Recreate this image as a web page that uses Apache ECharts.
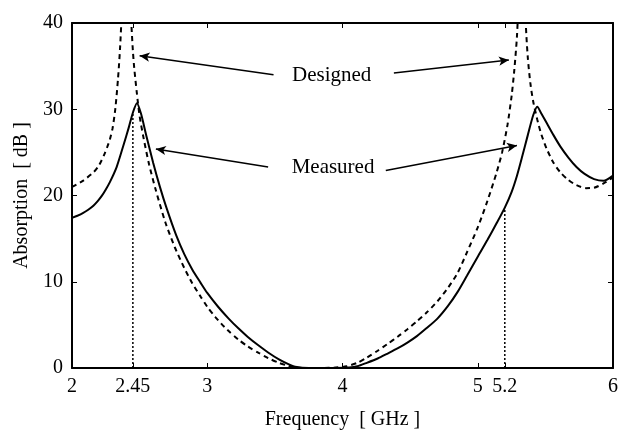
<!DOCTYPE html>
<html>
<head>
<meta charset="utf-8">
<script src="https://cdn.jsdelivr.net/npm/echarts@6/dist/echarts.min.js"></script>
<style>
html, body { margin: 0; padding: 0; background: #fff; }
#chart { width: 621px; height: 435px; }
</style>
</head>
<body>
<div id="chart"></div>
<script>
// frequency in GHz, absorption in dB
var measuredFreq = [2.00, 2.04, 2.08, 2.12, 2.16, 2.19, 2.22, 2.25, 2.28, 2.33, 2.38, 2.42, 2.45, 2.48, 2.51, 2.55, 2.60, 2.65, 2.70, 2.77,
	2.83, 2.89, 2.95, 3.00, 3.08, 3.16, 3.23, 3.30, 3.38, 3.45, 3.53, 3.60, 3.65, 3.75, 3.85, 3.95, 4.05, 4.11, 4.18, 4.26,
	4.33, 4.41, 4.48, 4.55, 4.62, 4.70, 4.78, 4.85, 4.92, 5.00, 5.07, 5.14, 5.20, 5.25, 5.29, 5.33, 5.37, 5.41, 5.44, 5.47,
	5.51, 5.56, 5.61, 5.67, 5.73, 5.79, 5.86, 5.93, 6.00];
var measuredAbs = [17.4, 17.65, 17.95, 18.35, 18.85, 19.35, 19.95, 20.7, 21.55, 23.3, 25.8, 27.9, 29.6, 30.7, 29.5, 26.9, 23.8, 21.0, 18.5, 15.4,
	13.2, 11.4, 9.9, 8.7, 7.1, 5.7, 4.6, 3.6, 2.6, 1.8, 1.0, 0.45, 0.15, 0.0, 0.0, 0.0, 0.05, 0.2, 0.6, 1.1,
	1.65, 2.3, 2.95, 3.7, 4.6, 5.7, 7.2, 8.8, 10.7, 12.9, 14.8, 16.8, 18.6, 20.4, 22.3, 24.6, 27.0, 29.3, 30.3, 29.5,
	28.4, 27.0, 25.7, 24.4, 23.3, 22.5, 21.9, 21.7, 22.3];

var designedFreq = [2.00, 2.08, 2.16, 2.20, 2.24, 2.26, 2.28, 2.30, 2.32, 2.34, 2.355, 2.37, 2.39, 2.40, 2.41, 2.425, 2.437, 2.45, 2.46, 2.48,
	2.50, 2.53, 2.57, 2.62, 2.69, 2.76, 2.83, 2.89, 2.95, 3.00, 3.06, 3.15, 3.23, 3.30, 3.38, 3.45, 3.53, 3.60, 3.65, 3.75,
	3.85, 3.95, 4.03, 4.11, 4.18, 4.26, 4.33, 4.41, 4.48, 4.55, 4.62, 4.70, 4.78, 4.85, 4.92, 5.00, 5.07, 5.14, 5.18, 5.22,
	5.25, 5.27, 5.29, 5.31, 5.325, 5.34, 5.355, 5.37, 5.39, 5.41, 5.44, 5.47, 5.51, 5.56, 5.61, 5.67, 5.73, 5.80, 5.86, 5.93,
	6.00];
var designedAbs = [21.0, 21.7, 22.7, 23.5, 24.8, 25.6, 26.5, 27.8, 30.0, 33.5, 37.0, 42.0, 52.0, 58.0, 52.0, 45.0, 40.5, 36.8, 34.8, 31.8,
	29.2, 26.6, 23.6, 20.6, 16.9, 14.0, 11.6, 9.8, 8.3, 7.1, 5.9, 4.4, 3.3, 2.5, 1.75, 1.15, 0.6, 0.25, 0.05, 0.0,
	0.0, 0.05, 0.2, 0.6, 1.2, 2.0, 2.75, 3.65, 4.5, 5.4, 6.4, 7.7, 9.3, 11.0, 13.4, 16.3, 19.3, 22.7, 25.0, 28.2,
	31.5, 34.5, 38.5, 46.0, 55.0, 48.0, 40.0, 36.0, 32.9, 30.9, 28.8, 27.1, 25.4, 23.8, 22.7, 21.8, 21.2, 20.85, 20.9, 21.4,
	22.1];

var xTicks = [2, 2.45, 3, 4, 5, 5.2, 6];

// vertical dotted markers at the design frequencies
var markerFreqs = [2.45, 5.2];
var markerTops = [29.6, 18.6];

// annotations
var noteNames = ['Designed', 'Measured'];
var notePos = [[3.92, 33.9], [3.93, 23.3]];
var arrowFrom = [[3.49, 34.0], [4.38, 34.2], [3.45, 23.3], [4.32, 22.9]];
var arrowTo = [[2.50, 36.2], [5.23, 35.7], [2.62, 25.4], [5.29, 25.8]];

var font = 'Liberation Serif';

function pairs(xs, ys) {
	var out = [];
	for (var i = 0; i < xs.length; i++) {
		out.push([xs[i], ys[i]]);
	}
	return out;
}

var chart = echarts.init(document.getElementById('chart'));

var tickStyle = { inside: true, length: 5, lineStyle: { color: '#000', width: 1 } };
var lineStyleAxis = { show: true, onZero: false, lineStyle: { color: '#000', width: 2 } };

var series = [{
	name: 'Measured',
	type: 'line',
	data: pairs(measuredFreq, measuredAbs),
	smooth: 0.25,
	showSymbol: false,
	clip: true,
	lineStyle: { color: '#000', width: 2 },
	z: 3
}, {
	name: 'Designed',
	type: 'line',
	data: pairs(designedFreq, designedAbs),
	smooth: 0.25,
	showSymbol: false,
	clip: true,
	lineStyle: { color: '#000', width: 2, type: [5, 4] },
	z: 3
}];

for (var i = 0; i < markerFreqs.length; i++) {
	series.push({
		type: 'line',
		data: [[markerFreqs[i], 0], [markerFreqs[i], markerTops[i]]],
		showSymbol: false,
		lineStyle: { color: '#000', width: 1.5, type: [2, 2] },
		z: 2
	});
}

var arrowData = [];
for (var i = 0; i < arrowFrom.length; i++) {
	arrowData.push([
		{ coord: arrowFrom[i], symbol: 'none' },
		{ coord: arrowTo[i], symbol: 'arrow', symbolSize: [7, 10] }
	]);
}
var noteData = [];
for (var i = 0; i < noteNames.length; i++) {
	noteData.push({ coord: notePos[i], value: noteNames[i] });
}

series.push({
	type: 'line',
	data: [],
	silent: true,
	markLine: {
		silent: true,
		animation: false,
		symbol: ['none', 'arrow'],
		symbolSize: 10,
		label: { show: false },
		lineStyle: { color: '#000', width: 1.5, type: 'solid' },
		itemStyle: { color: '#000' },
		emphasis: { disabled: true },
		data: arrowData
	},
	markPoint: {
		silent: true,
		animation: false,
		symbol: 'circle',
		symbolSize: 0,
		label: {
			show: true,
			position: 'inside',
			color: '#000',
			fontFamily: font,
			fontSize: 21,
			formatter: function(p) { return p.value; }
		},
		data: noteData
	}
});

chart.setOption({
	animation: false,
	backgroundColor: '#fff',
	grid: { left: 72, right: 5, top: 23, bottom: 64 },
	xAxis: [{
		type: 'value',
		min: 2,
		max: 6,
		position: 'bottom',
		name: 'Frequency  [ GHz ]',
		nameLocation: 'middle',
		nameGap: 42,
		nameTextStyle: { color: '#000', fontFamily: font, fontSize: 20 },
		axisLine: lineStyleAxis,
		axisTick: Object.assign({ customValues: xTicks }, tickStyle),
		axisLabel: { customValues: xTicks, color: '#000', fontFamily: font, fontSize: 20, margin: 9 },
		splitLine: { show: false }
	}, {
		type: 'value',
		min: 2,
		max: 6,
		position: 'top',
		axisLine: lineStyleAxis,
		axisTick: Object.assign({ customValues: xTicks }, tickStyle),
		axisLabel: { show: false },
		splitLine: { show: false }
	}],
	yAxis: [{
		type: 'value',
		min: 0,
		max: 40,
		interval: 10,
		position: 'left',
		name: 'Absorption  [ dB ]',
		nameLocation: 'middle',
		nameGap: 38,
		nameTextStyle: { color: '#000', fontFamily: font, fontSize: 20 },
		axisLine: lineStyleAxis,
		axisTick: tickStyle,
		axisLabel: { color: '#000', fontFamily: font, fontSize: 20, margin: 9 },
		splitLine: { show: false }
	}, {
		type: 'value',
		min: 0,
		max: 40,
		interval: 10,
		position: 'right',
		axisLine: lineStyleAxis,
		axisTick: tickStyle,
		axisLabel: { show: false },
		splitLine: { show: false }
	}],
	series: series
});

window.addEventListener('resize', function() {
	chart.resize();
});
</script>
</body>
</html>
